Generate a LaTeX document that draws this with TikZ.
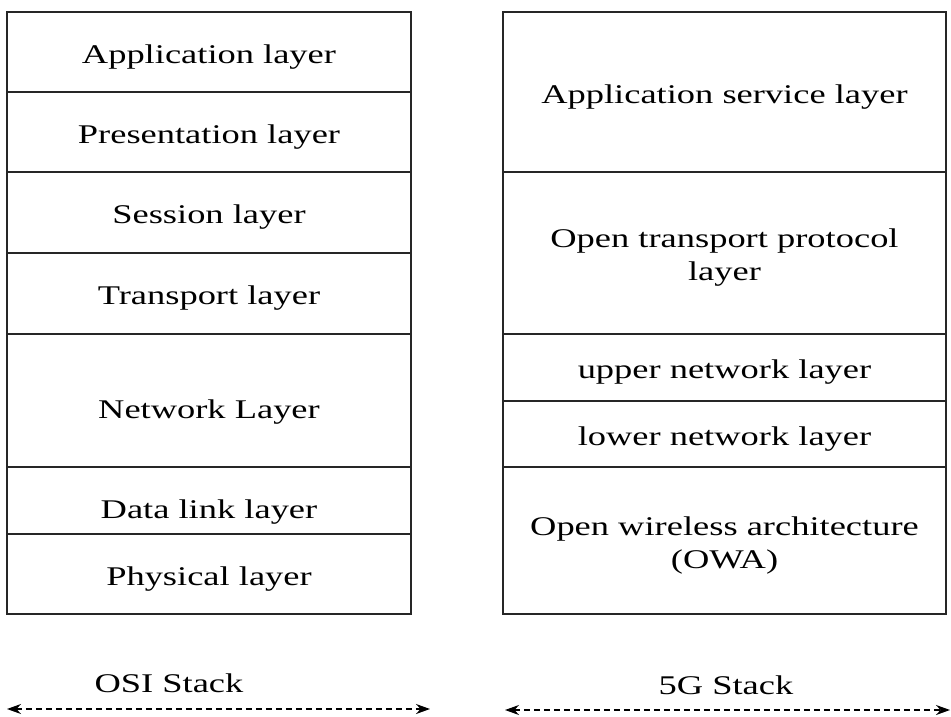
\documentclass[tikz,border=0pt]{standalone}
\usepackage{fontspec}
\setmainfont{Liberation Serif}[FakeStretch=1.35]
\usetikzlibrary{positioning,arrows.meta}

\begin{document}
\begin{tikzpicture}[x=0.5pt, y=-0.5pt,
  layer/.style={draw=black!85, line width=0.8pt, outer sep=0pt, inner sep=0pt},
  osi/.style={layer, minimum width=202pt},
  fiveg/.style={layer, minimum width=221.5pt},
  txt/.style={font=\fontsize{13.5}{16.5}\selectfont, align=center, inner sep=0pt, yshift=-2.5pt},
  low/.style={txt, yshift=-3.5pt},
  tag/.style={font=\fontsize{13.5}{16.5}\selectfont},
  span/.style={{Stealth[length=7pt,width=5pt]}-{Stealth[length=7pt,width=5pt]}, dash pattern=on 3pt off 2pt, line width=0.7pt}]
\useasboundingbox (0,0) rectangle (951,716);
\node[osi, minimum height=40pt, anchor=north west, label={[txt]center:Application layer}] (app) at (7,12) {};
\node[osi, minimum height=40pt, below=0pt of app, label={[txt]center:Presentation layer}] (pres) {};
\node[osi, minimum height=40.5pt, below=0pt of pres, label={[txt]center:Session layer}] (sess) {};
\node[osi, minimum height=40.5pt, below=0pt of sess, label={[txt]center:Transport layer}] (trans) {};
\node[osi, minimum height=66.5pt, below=0pt of trans, label={[low]center:Network Layer}] (net) {};
\node[osi, minimum height=33.5pt, below=0pt of net, label={[low]center:Data link layer}] (link) {};
\node[osi, minimum height=40pt, below=0pt of link, label={[txt]center:Physical layer}] (phys) {};
\node[fiveg, minimum height=80pt, anchor=north west, label={[txt]center:Application service layer}] (appsrv) at (503,12) {};
\node[fiveg, minimum height=81pt, below=0pt of appsrv, label={[txt]center:{Open transport protocol\\layer}}] (otp) {};
\node[fiveg, minimum height=33.5pt, below=0pt of otp, label={[txt]center:upper network layer}] (upnet) {};
\node[fiveg, minimum height=33pt, below=0pt of upnet, label={[txt]center:lower network layer}] (lownet) {};
\node[fiveg, minimum height=73.5pt, below=0pt of lownet, label={[txt]center:{Open wireless architecture\\(OWA)}}] (owa) {};
\node[tag] (ositag) at (169,683) {OSI Stack};
\node[tag] (fivegtag) at (726,685) {5G Stack};
\coordinate (osiL) at (7,709);
\coordinate (osiR) at (430,709);
\coordinate (fivegL) at (505,710);
\coordinate (fivegR) at (950,710);
\draw[span] (osiL) -- (osiR);
\draw[span] (fivegL) -- (fivegR);
\end{tikzpicture}
\end{document}
